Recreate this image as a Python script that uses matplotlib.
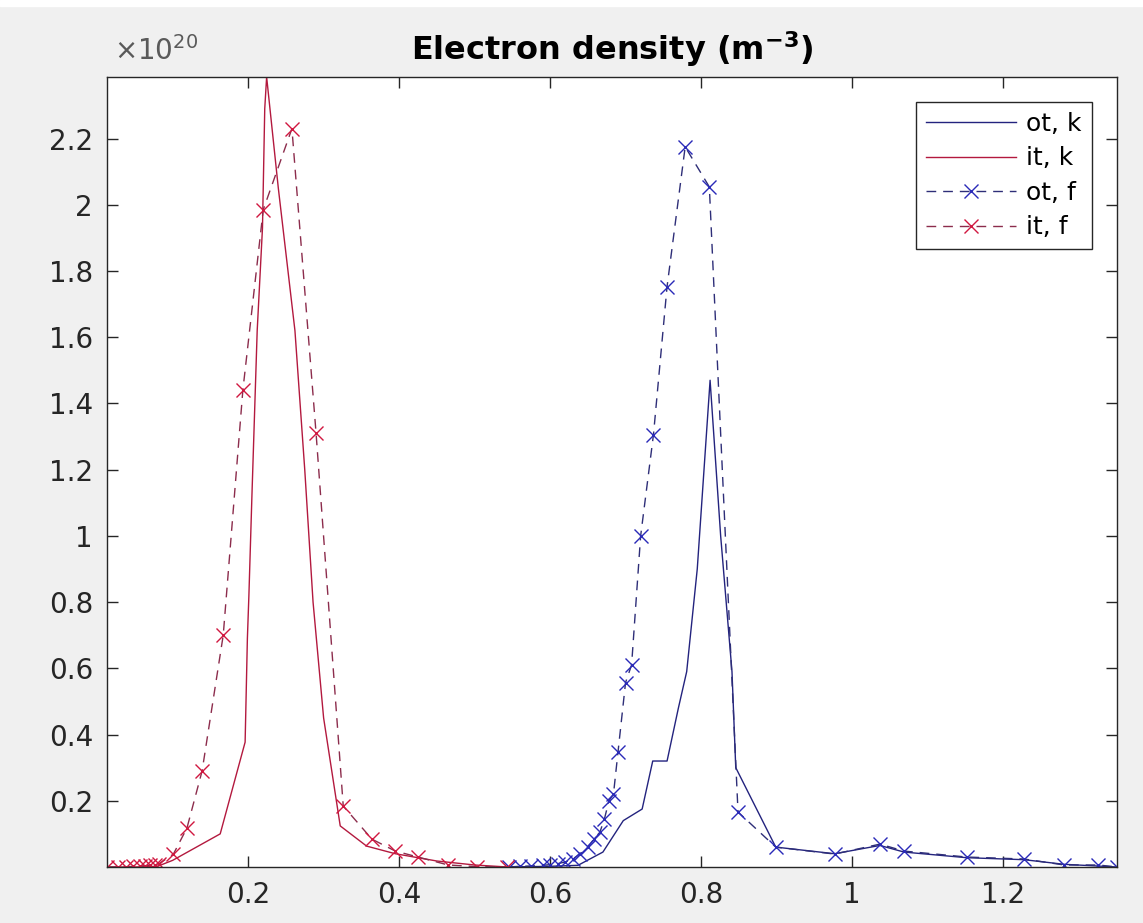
"""Electron density profiles, outer/inner target (k vs f)."""

import numpy as np
import matplotlib
matplotlib.use("Agg")
import matplotlib.pyplot as plt
from matplotlib.patches import Rectangle

# values in units of 1e20 m^-3
it_k_x = [0.013, 0.05, 0.08, 0.10, 0.163, 0.196, 0.199, 0.201, 0.205, 0.212,
          0.219, 0.222, 0.2245, 0.24, 0.262, 0.275, 0.286, 0.30, 0.322, 0.357,
          0.395, 0.45, 0.50, 0.543]
it_k_y = [0.0, 0.0, 0.002, 0.02, 0.10, 0.377, 0.69, 0.82, 1.12, 1.62,
          1.93, 2.29, 2.386, 2.05, 1.62, 1.20, 0.80, 0.45, 0.124, 0.063,
          0.040, 0.018, 0.006, 0.0]

it_f_x = [0.013, 0.028, 0.038, 0.047, 0.057, 0.064, 0.070, 0.076, 0.082,
          0.101, 0.119, 0.139, 0.167, 0.193, 0.220, 0.258, 0.290, 0.326,
          0.364, 0.395, 0.425, 0.465, 0.503, 0.543]
it_f_y = [0.0, 0.0, 0.0, 0.002, 0.003, 0.004, 0.005, 0.007, 0.010,
          0.039, 0.118, 0.29, 0.70, 1.44, 1.985, 2.23, 1.31, 0.184,
          0.084, 0.048, 0.030, 0.006, 0.001, 0.0]

ot_k_x = [0.545, 0.60, 0.637, 0.670, 0.697, 0.722, 0.736, 0.755, 0.770,
          0.781, 0.795, 0.812, 0.826, 0.841, 0.846, 0.899, 0.977, 1.037,
          1.069, 1.152, 1.228, 1.281, 1.351]
ot_k_y = [0.0, 0.002, 0.005, 0.045, 0.14, 0.175, 0.32, 0.32, 0.48,
          0.59, 0.90, 1.47, 1.00, 0.59, 0.30, 0.06, 0.04, 0.065,
          0.045, 0.028, 0.022, 0.008, 0.0]

ot_f_x = [0.545, 0.560, 0.575, 0.590, 0.600, 0.610, 0.620, 0.630, 0.640,
          0.650, 0.658, 0.666, 0.672, 0.678, 0.684, 0.690, 0.700, 0.708,
          0.720, 0.737, 0.755, 0.779, 0.811, 0.849, 0.899, 0.977, 1.037,
          1.069, 1.152, 1.228, 1.281, 1.326, 1.351]
ot_f_y = [0.0, 0.002, 0.003, 0.005, 0.007, 0.010, 0.015, 0.024, 0.040,
          0.060, 0.084, 0.105, 0.145, 0.200, 0.220, 0.347, 0.557, 0.610,
          1.000, 1.306, 1.753, 2.175, 2.054, 0.166, 0.060, 0.039, 0.069,
          0.048, 0.030, 0.024, 0.006, 0.006, 0.0]

x_ticks = [0.2, 0.4, 0.6, 0.8, 1.0, 1.2]
x_tick_labels = ["0.2", "0.4", "0.6", "0.8", "1", "1.2"]
y_ticks = [0.2, 0.4, 0.6, 0.8, 1.0, 1.2, 1.4, 1.6, 1.8, 2.0, 2.2]
y_tick_labels = ["0.2", "0.4", "0.6", "0.8", "1", "1.2", "1.4", "1.6",
                 "1.8", "2", "2.2"]

ink = "#262626"
plt.rcParams["font.family"] = ["DejaVu Sans"]
plt.rcParams["mathtext.fontset"] = "dejavusans"

fig = plt.figure(figsize=(11.43, 9.23), dpi=100, facecolor="#f0f0f0")
# thin white strip along the top edge of the window capture
fig.add_artist(Rectangle((0, 1 - 6 / 923.), 1, 6 / 923., color="white",
                         transform=fig.transFigure, zorder=0))
ax = fig.add_axes([0.0936, 0.0607, 0.8836, 0.8559])
ax.set_facecolor("white")

dash = (7, 5)
ax.plot(ot_k_x, ot_k_y, "-", color="#23237e", lw=1.0, label="ot, k")
ax.plot(it_k_x, it_k_y, "-", color="#b3193e", lw=1.0, label="it, k")
ax.plot(ot_f_x, ot_f_y, "--", dashes=dash, color="#2e2e78", lw=1.0,
        marker="x", ms=10, mew=1.0, mec="#2a2ab8", label="ot, f")
ax.plot(it_f_x, it_f_y, "--", dashes=dash, color="#8c2c4c", lw=1.0,
        marker="x", ms=10, mew=1.0, mec="#d01840", label="it, f")

ax.set_xlim(min(it_k_x), max(ot_k_x))
ax.set_ylim(0, max(it_k_y))
ax.set_xticks(x_ticks)
ax.set_xticklabels(x_tick_labels)
ax.set_yticks(y_ticks)
ax.set_yticklabels(y_tick_labels)
ax.tick_params(direction="in", length=8, width=1.0, top=True, right=True,
               labelsize=20, colors=ink, pad=10)
for side in ax.spines.values():
    side.set_color(ink)
    side.set_linewidth(1.0)

ax.set_title(r"Electron density (m$^{\mathbf{-3}}$)", fontsize=23,
             fontweight="bold", color="black", pad=12)
fig.text(0.1, 0.945, r"$\times10^{20}$", fontsize=20, color="#5a5a5a",
         ha="left", va="center")

leg = ax.legend(loc="upper right", fontsize=18, numpoints=1,
                handlelength=3.6, handletextpad=0.4, labelspacing=0.42,
                borderaxespad=1.0, borderpad=0.4, fancybox=False,
                framealpha=1.0, edgecolor=ink)
leg.get_frame().set_linewidth(1.0)

fig.savefig("out.png", dpi=100, facecolor=fig.get_facecolor())
